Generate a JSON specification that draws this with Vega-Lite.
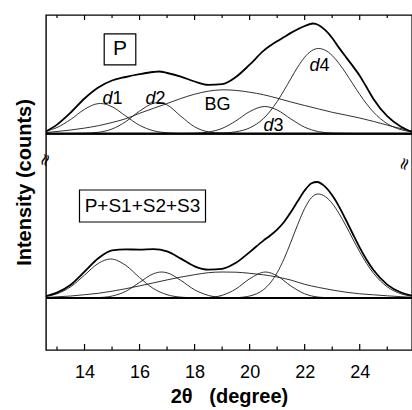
{
  "$schema": "https://vega.github.io/schema/vega-lite/v6.json",
  "padding": {"left": 13, "top": 13, "right": 2, "bottom": 2},
  "config": {
    "view": {"stroke": "#000", "strokeWidth": 1.4},
    "font": "Liberation Sans",
    "concat": {"spacing": 0},
    "axis": {"labelFont": "Liberation Sans", "titleFont": "Liberation Sans"}
  },
  "spacing": 0,
  "bounds": "flush",
  "resolve": {"scale": {"x": "independent", "y": "independent"}},
  "datasets": {
    "curves": [
      {"p":"P","s":"d1","x":12.6,"y":2.4},{"p":"P","s":"d1","x":13,"y":6.0},{"p":"P","s":"d1","x":13.5,"y":14.1},{"p":"P","s":"d1","x":14,"y":24.2},{"p":"P","s":"d1","x":14.5,"y":29.9},{"p":"P","s":"d1","x":14.58,"y":30},{"p":"P","s":"d1","x":15,"y":26.8},{"p":"P","s":"d1","x":15.5,"y":17.4},{"p":"P","s":"d1","x":16,"y":8.2},{"p":"P","s":"d1","x":16.5,"y":2.8},{"p":"P","s":"d1","x":17,"y":0.7},{"p":"P","s":"d1","x":17.5,"y":0.1},{"p":"P","s":"d1","x":18,"y":0},
      {"p":"P","s":"d2","x":13.5,"y":0},{"p":"P","s":"d2","x":14,"y":0.24},{"p":"P","s":"d2","x":14.5,"y":1.2},{"p":"P","s":"d2","x":15,"y":4.5},{"p":"P","s":"d2","x":15.5,"y":11.9},{"p":"P","s":"d2","x":16,"y":22.4},{"p":"P","s":"d2","x":16.5,"y":30.2},{"p":"P","s":"d2","x":16.7,"y":31},{"p":"P","s":"d2","x":17,"y":28.6},{"p":"P","s":"d2","x":17.5,"y":17.3},{"p":"P","s":"d2","x":18,"y":6.7},{"p":"P","s":"d2","x":18.5,"y":1.6},{"p":"P","s":"d2","x":19,"y":0.25},{"p":"P","s":"d2","x":19.5,"y":0},
      {"p":"P","s":"BG","x":12.6,"y":1},{"p":"P","s":"BG","x":13,"y":2},{"p":"P","s":"BG","x":13.5,"y":3.5},{"p":"P","s":"BG","x":14,"y":5.4},{"p":"P","s":"BG","x":14.5,"y":7.8},{"p":"P","s":"BG","x":15,"y":11},{"p":"P","s":"BG","x":15.5,"y":14.8},{"p":"P","s":"BG","x":16,"y":20.2},{"p":"P","s":"BG","x":16.5,"y":25.1},{"p":"P","s":"BG","x":17,"y":30},{"p":"P","s":"BG","x":17.5,"y":35},{"p":"P","s":"BG","x":18,"y":39.3},{"p":"P","s":"BG","x":18.5,"y":42.3},{"p":"P","s":"BG","x":19,"y":43.7},{"p":"P","s":"BG","x":19.5,"y":43.1},{"p":"P","s":"BG","x":20,"y":41.3},{"p":"P","s":"BG","x":20.5,"y":38.8},{"p":"P","s":"BG","x":21,"y":35.3},{"p":"P","s":"BG","x":21.5,"y":31.5},{"p":"P","s":"BG","x":22,"y":28},{"p":"P","s":"BG","x":22.5,"y":24.6},{"p":"P","s":"BG","x":23,"y":21.2},{"p":"P","s":"BG","x":23.5,"y":18.4},{"p":"P","s":"BG","x":24,"y":15.5},{"p":"P","s":"BG","x":24.5,"y":12.1},{"p":"P","s":"BG","x":25,"y":8.4},{"p":"P","s":"BG","x":25.5,"y":4.9},{"p":"P","s":"BG","x":25.9,"y":2.5},
      {"p":"P","s":"d3","x":17.5,"y":0},{"p":"P","s":"d3","x":18,"y":0.3},{"p":"P","s":"d3","x":18.5,"y":1.5},{"p":"P","s":"d3","x":19,"y":5.1},{"p":"P","s":"d3","x":19.5,"y":12.6},{"p":"P","s":"d3","x":20,"y":21.9},{"p":"P","s":"d3","x":20.55,"y":27},{"p":"P","s":"d3","x":21,"y":23.5},{"p":"P","s":"d3","x":21.5,"y":14.5},{"p":"P","s":"d3","x":22,"y":6.3},{"p":"P","s":"d3","x":22.5,"y":1.9},{"p":"P","s":"d3","x":23,"y":0.4},{"p":"P","s":"d3","x":23.5,"y":0.1},{"p":"P","s":"d3","x":24,"y":0},
      {"p":"P","s":"d4","x":18,"y":0},{"p":"P","s":"d4","x":18.5,"y":0.1},{"p":"P","s":"d4","x":19,"y":0.4},{"p":"P","s":"d4","x":19.5,"y":1.7},{"p":"P","s":"d4","x":20,"y":5.6},{"p":"P","s":"d4","x":20.5,"y":14.9},{"p":"P","s":"d4","x":20.75,"y":22.5},{"p":"P","s":"d4","x":21,"y":32},{"p":"P","s":"d4","x":21.25,"y":43.1},{"p":"P","s":"d4","x":21.5,"y":55},{"p":"P","s":"d4","x":21.75,"y":66.6},{"p":"P","s":"d4","x":22,"y":76.3},{"p":"P","s":"d4","x":22.25,"y":82.7},{"p":"P","s":"d4","x":22.5,"y":85},{"p":"P","s":"d4","x":22.75,"y":83.2},{"p":"P","s":"d4","x":23,"y":78},{"p":"P","s":"d4","x":23.25,"y":70},{"p":"P","s":"d4","x":23.5,"y":60.2},{"p":"P","s":"d4","x":23.75,"y":49.6},{"p":"P","s":"d4","x":24,"y":39.1},{"p":"P","s":"d4","x":24.25,"y":29.6},{"p":"P","s":"d4","x":24.5,"y":21.4},{"p":"P","s":"d4","x":25,"y":9.8},{"p":"P","s":"d4","x":25.5,"y":3.8},{"p":"P","s":"d4","x":25.9,"y":1.6},
      {"p":"P","s":"sum","x":12.6,"y":2},{"p":"P","s":"sum","x":13,"y":8.9},{"p":"P","s":"sum","x":13.5,"y":21},{"p":"P","s":"sum","x":14,"y":35},{"p":"P","s":"sum","x":14.5,"y":46},{"p":"P","s":"sum","x":15,"y":53},{"p":"P","s":"sum","x":15.5,"y":56.5},{"p":"P","s":"sum","x":16,"y":59.3},{"p":"P","s":"sum","x":16.5,"y":61.5},{"p":"P","s":"sum","x":16.7,"y":62},{"p":"P","s":"sum","x":17,"y":60.5},{"p":"P","s":"sum","x":17.5,"y":56.8},{"p":"P","s":"sum","x":18,"y":52},{"p":"P","s":"sum","x":18.5,"y":48.6},{"p":"P","s":"sum","x":19,"y":49.3},{"p":"P","s":"sum","x":19.5,"y":56.5},{"p":"P","s":"sum","x":20,"y":68.8},{"p":"P","s":"sum","x":20.5,"y":82.6},{"p":"P","s":"sum","x":21,"y":92.3},{"p":"P","s":"sum","x":21.25,"y":96.4},{"p":"P","s":"sum","x":21.5,"y":100.6},{"p":"P","s":"sum","x":21.75,"y":104.3},{"p":"P","s":"sum","x":22,"y":107.5},{"p":"P","s":"sum","x":22.3,"y":110},{"p":"P","s":"sum","x":22.5,"y":108.5},{"p":"P","s":"sum","x":22.75,"y":103.3},{"p":"P","s":"sum","x":23,"y":95.5},{"p":"P","s":"sum","x":23.25,"y":85.6},{"p":"P","s":"sum","x":23.5,"y":76.4},{"p":"P","s":"sum","x":23.75,"y":67.4},{"p":"P","s":"sum","x":24,"y":57.8},{"p":"P","s":"sum","x":24.25,"y":46.2},{"p":"P","s":"sum","x":24.5,"y":34.6},{"p":"P","s":"sum","x":25,"y":17.4},{"p":"P","s":"sum","x":25.5,"y":6.8},{"p":"P","s":"sum","x":25.9,"y":1.5},

      {"p":"S","s":"d1","x":12.6,"y":1.5},{"p":"S","s":"d1","x":13,"y":4.2},{"p":"S","s":"d1","x":13.5,"y":11.3},{"p":"S","s":"d1","x":14,"y":22.9},{"p":"S","s":"d1","x":14.5,"y":34.6},{"p":"S","s":"d1","x":14.95,"y":39},{"p":"S","s":"d1","x":15.5,"y":32.6},{"p":"S","s":"d1","x":16,"y":20.4},{"p":"S","s":"d1","x":16.5,"y":9.5},{"p":"S","s":"d1","x":17,"y":3.3},{"p":"S","s":"d1","x":17.5,"y":0.85},{"p":"S","s":"d1","x":18,"y":0.16},{"p":"S","s":"d1","x":18.5,"y":0},
      {"p":"S","s":"d2","x":13.5,"y":0},{"p":"S","s":"d2","x":14,"y":0.05},{"p":"S","s":"d2","x":14.5,"y":0.4},{"p":"S","s":"d2","x":15,"y":1.95},{"p":"S","s":"d2","x":15.5,"y":6.7},{"p":"S","s":"d2","x":16,"y":15.6},{"p":"S","s":"d2","x":16.5,"y":24.2},{"p":"S","s":"d2","x":16.8,"y":26},{"p":"S","s":"d2","x":17,"y":25.2},{"p":"S","s":"d2","x":17.5,"y":17.6},{"p":"S","s":"d2","x":18,"y":8.2},{"p":"S","s":"d2","x":18.5,"y":2.6},{"p":"S","s":"d2","x":19,"y":0.54},{"p":"S","s":"d2","x":19.5,"y":0.08},{"p":"S","s":"d2","x":20,"y":0},
      {"p":"S","s":"BG","x":12.6,"y":0.5},{"p":"S","s":"BG","x":13,"y":1.2},{"p":"S","s":"BG","x":13.5,"y":2},{"p":"S","s":"BG","x":14,"y":3.3},{"p":"S","s":"BG","x":14.5,"y":4.7},{"p":"S","s":"BG","x":15,"y":6.8},{"p":"S","s":"BG","x":15.5,"y":9.3},{"p":"S","s":"BG","x":16,"y":12.1},{"p":"S","s":"BG","x":16.5,"y":15.1},{"p":"S","s":"BG","x":17,"y":18.1},{"p":"S","s":"BG","x":17.5,"y":20.9},{"p":"S","s":"BG","x":18,"y":23.3},{"p":"S","s":"BG","x":18.5,"y":25.3},{"p":"S","s":"BG","x":19,"y":26},{"p":"S","s":"BG","x":19.5,"y":25.8},{"p":"S","s":"BG","x":20,"y":24.7},{"p":"S","s":"BG","x":20.5,"y":23.2},{"p":"S","s":"BG","x":21,"y":21},{"p":"S","s":"BG","x":21.5,"y":17.9},{"p":"S","s":"BG","x":22,"y":13.7},{"p":"S","s":"BG","x":22.5,"y":10.6},{"p":"S","s":"BG","x":23,"y":8},{"p":"S","s":"BG","x":23.5,"y":5.8},{"p":"S","s":"BG","x":24,"y":4.2},{"p":"S","s":"BG","x":24.5,"y":3.2},{"p":"S","s":"BG","x":25,"y":2.2},{"p":"S","s":"BG","x":25.5,"y":1.3},{"p":"S","s":"BG","x":25.9,"y":0.7},
      {"p":"S","s":"d3","x":17.5,"y":0},{"p":"S","s":"d3","x":18,"y":0.06},{"p":"S","s":"d3","x":18.5,"y":0.5},{"p":"S","s":"d3","x":19,"y":2.7},{"p":"S","s":"d3","x":19.5,"y":9},{"p":"S","s":"d3","x":20,"y":19.2},{"p":"S","s":"d3","x":20.58,"y":26},{"p":"S","s":"d3","x":21,"y":22.1},{"p":"S","s":"d3","x":21.5,"y":12},{"p":"S","s":"d3","x":22,"y":4.2},{"p":"S","s":"d3","x":22.5,"y":0.9},{"p":"S","s":"d3","x":23,"y":0.13},{"p":"S","s":"d3","x":23.5,"y":0},
      {"p":"S","s":"d4","x":19,"y":0},{"p":"S","s":"d4","x":19.5,"y":0.3},{"p":"S","s":"d4","x":20,"y":2},{"p":"S","s":"d4","x":20.5,"y":8.3},{"p":"S","s":"d4","x":20.75,"y":15.1},{"p":"S","s":"d4","x":21,"y":25.3},{"p":"S","s":"d4","x":21.25,"y":39.2},{"p":"S","s":"d4","x":21.5,"y":56},{"p":"S","s":"d4","x":21.75,"y":73.7},{"p":"S","s":"d4","x":22,"y":89.6},{"p":"S","s":"d4","x":22.25,"y":100.5},{"p":"S","s":"d4","x":22.48,"y":104},{"p":"S","s":"d4","x":22.75,"y":101.4},{"p":"S","s":"d4","x":23,"y":94.6},{"p":"S","s":"d4","x":23.25,"y":84.5},{"p":"S","s":"d4","x":23.5,"y":72.2},{"p":"S","s":"d4","x":23.75,"y":59},{"p":"S","s":"d4","x":24,"y":46.2},{"p":"S","s":"d4","x":24.25,"y":34.6},{"p":"S","s":"d4","x":24.5,"y":24.8},{"p":"S","s":"d4","x":25,"y":11.2},{"p":"S","s":"d4","x":25.5,"y":4.2},{"p":"S","s":"d4","x":25.9,"y":1.7},
      {"p":"S","s":"sum","x":12.6,"y":2},{"p":"S","s":"sum","x":13,"y":5.4},{"p":"S","s":"sum","x":13.5,"y":13.3},{"p":"S","s":"sum","x":14,"y":26.3},{"p":"S","s":"sum","x":14.5,"y":39.7},{"p":"S","s":"sum","x":15,"y":47.7},{"p":"S","s":"sum","x":15.5,"y":48.6},{"p":"S","s":"sum","x":16,"y":48.4},{"p":"S","s":"sum","x":16.5,"y":48.8},{"p":"S","s":"sum","x":17,"y":46.6},{"p":"S","s":"sum","x":17.5,"y":39.4},{"p":"S","s":"sum","x":18,"y":31.7},{"p":"S","s":"sum","x":18.5,"y":28.4},{"p":"S","s":"sum","x":19,"y":29.2},{"p":"S","s":"sum","x":19.5,"y":35.2},{"p":"S","s":"sum","x":20,"y":45.9},{"p":"S","s":"sum","x":20.5,"y":57.4},{"p":"S","s":"sum","x":20.75,"y":62.5},{"p":"S","s":"sum","x":21,"y":68.4},{"p":"S","s":"sum","x":21.25,"y":76},{"p":"S","s":"sum","x":21.5,"y":85.9},{"p":"S","s":"sum","x":21.75,"y":97},{"p":"S","s":"sum","x":22,"y":107.5},{"p":"S","s":"sum","x":22.25,"y":114.7},{"p":"S","s":"sum","x":22.45,"y":116},{"p":"S","s":"sum","x":22.75,"y":111.1},{"p":"S","s":"sum","x":23,"y":102.7},{"p":"S","s":"sum","x":23.25,"y":91.4},{"p":"S","s":"sum","x":23.5,"y":78},{"p":"S","s":"sum","x":23.75,"y":64},{"p":"S","s":"sum","x":24,"y":50.4},{"p":"S","s":"sum","x":24.25,"y":38.3},{"p":"S","s":"sum","x":24.5,"y":28},{"p":"S","s":"sum","x":25,"y":13.4},{"p":"S","s":"sum","x":25.5,"y":5.5},{"p":"S","s":"sum","x":25.9,"y":2.4}
    ],
    "boxes": [
      {"p":"P","x1":14.715,"x2":15.863,"y1":68.7,"y2":99.7,"cx":15.289,"cy":84.2,"t":"P"},
      {"p":"S","x1":13.817,"x2":18.396,"y1":76,"y2":108,"cx":16.107,"cy":92,"t":"P+S1+S2+S3"}
    ],
    "peaks": [
      {"x":15.016,"y":35,"l":"d","n":"1"},
      {"x":16.579,"y":35,"l":"d","n":"2"},
      {"x":20.867,"y":7.5,"l":"d","n":"3"},
      {"x":22.538,"y":68,"l":"d","n":"4"}
    ],
    "bg": [{"x":18.832,"y":28.5,"t":"BG"}],
    "breaks": [{"x":12.58,"y":138,"t":"≈"},{"x":25.64,"y":134,"t":"≈"}],
    "ticks": [
      {"x":13,"k":"minor"},{"x":14,"k":"major"},{"x":15,"k":"minor"},{"x":16,"k":"major"},{"x":17,"k":"minor"},{"x":18,"k":"major"},{"x":19,"k":"minor"},{"x":20,"k":"major"},{"x":21,"k":"minor"},{"x":22,"k":"major"},{"x":23,"k":"minor"},{"x":24,"k":"major"},{"x":25,"k":"minor"}
    ],
    "zero": [{"y":0}]
  },
  "vconcat": [
    {
      "width": 366,
      "height": 118.5,
      "layer": [
        {
          "data": {"name": "curves"},
          "transform": [{"filter": "datum.p === 'P' && datum.s !== 'sum'"}],
          "mark": {"type": "line", "interpolate": "monotone", "color": "#1a1a1a", "strokeWidth": 0.9},
          "encoding": {
            "x": {"field": "x", "type": "quantitative", "scale": {"domain": [12.6, 25.9], "nice": false, "zero": false}, "axis": null},
            "y": {"field": "y", "type": "quantitative", "scale": {"domain": [0, 118.5], "nice": false, "zero": false}, "axis": null},
            "detail": {"field": "s"}
          }
        },
        {
          "data": {"name": "curves"},
          "transform": [{"filter": "datum.p === 'P' && datum.s === 'sum'"}],
          "mark": {"type": "line", "interpolate": "monotone", "color": "#000", "strokeWidth": 1.8},
          "encoding": {
            "x": {"field": "x", "type": "quantitative"},
            "y": {"field": "y", "type": "quantitative"}
          }
        },
        {
          "data": {"name": "zero"},
          "mark": {"type": "rule", "color": "#000", "strokeWidth": 2},
          "encoding": {"y": {"field": "y", "type": "quantitative"}}
        },
        {
          "data": {"name": "ticks"},
          "transform": [{"filter": "datum.k === 'major'"}],
          "mark": {"type": "rule", "color": "#000", "strokeWidth": 1.2},
          "encoding": {"x": {"field": "x", "type": "quantitative"}, "y": {"datum": 118.5}, "y2": {"datum": 113.5}}
        },
        {
          "data": {"name": "ticks"},
          "transform": [{"filter": "datum.k === 'minor'"}],
          "mark": {"type": "rule", "color": "#000", "strokeWidth": 1.2},
          "encoding": {"x": {"field": "x", "type": "quantitative"}, "y": {"datum": 118.5}, "y2": {"datum": 115.5}}
        },
        {
          "data": {"name": "boxes"},
          "transform": [{"filter": "datum.p === 'P'"}],
          "mark": {"type": "rect", "fill": "#fff", "fillOpacity": 0, "stroke": "#000", "strokeWidth": 1.2},
          "encoding": {
            "x": {"field": "x1", "type": "quantitative"}, "x2": {"field": "x2"},
            "y": {"field": "y1", "type": "quantitative"}, "y2": {"field": "y2"}
          }
        },
        {
          "data": {"name": "boxes"},
          "transform": [{"filter": "datum.p === 'P'"}],
          "mark": {"type": "text", "fontSize": 21, "align": "center", "baseline": "middle", "color": "#000"},
          "encoding": {
            "x": {"field": "cx", "type": "quantitative"},
            "y": {"field": "cy", "type": "quantitative"},
            "text": {"field": "t"}
          }
        },
        {
          "data": {"name": "peaks"},
          "mark": {"type": "text", "fontSize": 18, "fontStyle": "italic", "align": "right", "baseline": "middle", "color": "#000"},
          "encoding": {
            "x": {"field": "x", "type": "quantitative"},
            "y": {"field": "y", "type": "quantitative"},
            "text": {"field": "l"}
          }
        },
        {
          "data": {"name": "peaks"},
          "mark": {"type": "text", "fontSize": 18, "align": "left", "baseline": "middle", "color": "#000"},
          "encoding": {
            "x": {"field": "x", "type": "quantitative"},
            "y": {"field": "y", "type": "quantitative"},
            "text": {"field": "n"}
          }
        },
        {
          "data": {"name": "bg"},
          "mark": {"type": "text", "fontSize": 18, "align": "center", "baseline": "middle", "color": "#000"},
          "encoding": {
            "x": {"field": "x", "type": "quantitative"},
            "y": {"field": "y", "type": "quantitative"},
            "text": {"field": "t"}
          }
        }
      ]
    },
    {
      "width": 366,
      "height": 216,
      "layer": [
        {
          "data": {"name": "curves"},
          "transform": [{"filter": "datum.p === 'S' && datum.s !== 'sum'"}],
          "mark": {"type": "line", "interpolate": "monotone", "color": "#1a1a1a", "strokeWidth": 0.9},
          "encoding": {
            "x": {"field": "x", "type": "quantitative", "scale": {"domain": [12.6, 25.9], "nice": false, "zero": false},
              "axis": {"orient": "bottom", "values": [14,16,18,20,22,24], "labelOverlap": false, "labelFlush": false,
                "labelFontSize": 18, "labelColor": "#000", "labelPadding": 13, "ticks": false,
                "domain": false, "grid": false,
                "title": "2θ\u00a0\u00a0\u00a0(degree)", "titleFontSize": 20, "titleFontWeight": "bold", "titleColor": "#000", "titlePadding": 5}},
            "y": {"field": "y", "type": "quantitative", "scale": {"domain": [-52, 164], "nice": false, "zero": false},
              "axis": {"orient": "left", "domain": false, "ticks": false, "labels": false, "grid": false,
                "title": "Intensity (counts)", "titleFontSize": 20, "titleFontWeight": "bold", "titleColor": "#000",
                "titleX": -22, "titleY": 48, "titleAngle": 270, "titleBaseline": "middle", "titleAlign": "center"}},
            "detail": {"field": "s"}
          }
        },
        {
          "data": {"name": "curves"},
          "transform": [{"filter": "datum.p === 'S' && datum.s === 'sum'"}],
          "mark": {"type": "line", "interpolate": "monotone", "color": "#000", "strokeWidth": 1.8},
          "encoding": {
            "x": {"field": "x", "type": "quantitative"},
            "y": {"field": "y", "type": "quantitative"}
          }
        },
        {
          "data": {"name": "zero"},
          "mark": {"type": "rule", "color": "#000", "strokeWidth": 2},
          "encoding": {"y": {"field": "y", "type": "quantitative"}}
        },
        {
          "data": {"name": "ticks"},
          "transform": [{"filter": "datum.k === 'major'"}],
          "mark": {"type": "rule", "color": "#000", "strokeWidth": 1.2},
          "encoding": {"x": {"field": "x", "type": "quantitative"}, "y": {"datum": -52}, "y2": {"datum": -46}}
        },
        {
          "data": {"name": "ticks"},
          "transform": [{"filter": "datum.k === 'minor'"}],
          "mark": {"type": "rule", "color": "#000", "strokeWidth": 1.2},
          "encoding": {"x": {"field": "x", "type": "quantitative"}, "y": {"datum": -52}, "y2": {"datum": -48.5}}
        },
        {
          "data": {"name": "boxes"},
          "transform": [{"filter": "datum.p === 'S'"}],
          "mark": {"type": "rect", "fill": "#fff", "fillOpacity": 0, "stroke": "#000", "strokeWidth": 1.2},
          "encoding": {
            "x": {"field": "x1", "type": "quantitative"}, "x2": {"field": "x2"},
            "y": {"field": "y1", "type": "quantitative"}, "y2": {"field": "y2"}
          }
        },
        {
          "data": {"name": "boxes"},
          "transform": [{"filter": "datum.p === 'S'"}],
          "mark": {"type": "text", "fontSize": 19, "align": "center", "baseline": "middle", "color": "#000"},
          "encoding": {
            "x": {"field": "cx", "type": "quantitative"},
            "y": {"field": "cy", "type": "quantitative"},
            "text": {"field": "t"}
          }
        },
        {
          "data": {"name": "breaks"},
          "mark": {"type": "text", "font": "DejaVu Sans", "fontSize": 17, "angle": 290, "align": "center", "baseline": "middle", "color": "#000"},
          "encoding": {
            "x": {"field": "x", "type": "quantitative"},
            "y": {"field": "y", "type": "quantitative"},
            "text": {"field": "t"}
          }
        }
      ]
    }
  ]
}
